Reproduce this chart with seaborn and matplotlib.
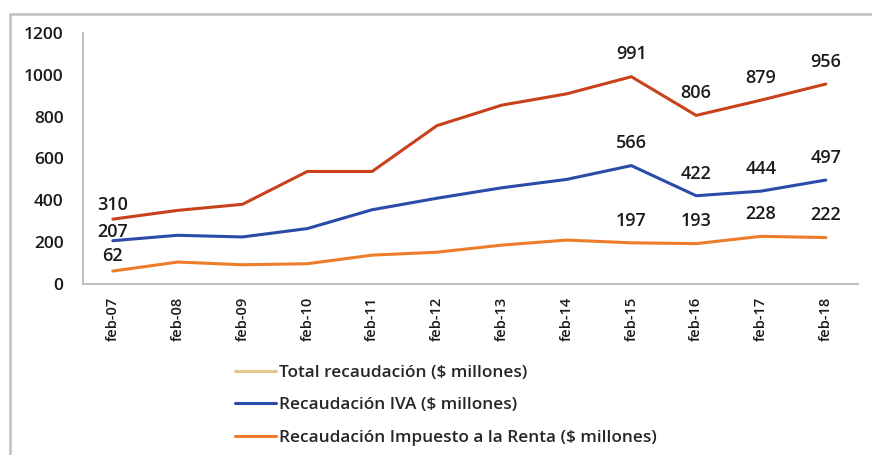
import pandas as pd
import seaborn as sns
import matplotlib
matplotlib.use("Agg")
import matplotlib.pyplot as plt
from matplotlib.lines import Line2D
from matplotlib.patches import Rectangle

periodos = ['feb-07', 'feb-08', 'feb-09', 'feb-10', 'feb-11', 'feb-12',
            'feb-13', 'feb-14', 'feb-15', 'feb-16', 'feb-17', 'feb-18']
total = [310, 352, 381, 538, 538, 757, 855, 909, 991, 806, 879, 956]
iva = [207, 233, 225, 265, 355, 410, 460, 500, 566, 422, 444, 497]
renta = [62, 105, 92, 97, 138, 152, 186, 210, 197, 193, 228, 222]

series = ['Total', 'IVA', 'Renta']
line_colors = ['#C9411B', '#2A4BA8', '#EE7D2A']
legend_labels = ['Total recaudación ($ millones)',
                 'Recaudación IVA ($ millones)',
                 'Recaudación Impuesto a la Renta ($ millones)']
legend_colors = ['#E3C58E', '#2A4BA8', '#EE7D2A']

df = pd.DataFrame({
    'periodo': periodos * 3,
    'valor': total + iva + renta,
    'serie': [s for s in series for _ in periodos],
})

sns.set_style('white')
plt.rcParams['font.family'] = ['Open Sans', 'DejaVu Sans']
plt.rcParams['font.weight'] = 'semibold'
txt = '#1A1A1A'

fig = plt.figure(figsize=(8.72, 4.55), dpi=100)
ax = fig.add_axes([0.0952, 0.3758, 0.889, 0.5517])
sns.lineplot(data=df, x='periodo', y='valor', hue='serie', palette=line_colors,
             linewidth=2.2, ax=ax, legend=False, sort=False)

ax.set_ylim(0, 1200)
ax.set_xlim(-0.46, 11.5)
ax.set_yticks(range(0, 1201, 200))
ax.set_xlabel('')
ax.set_ylabel('')
ax.tick_params(axis='y', length=0, pad=14, labelsize=12.5, labelcolor=txt)
ax.tick_params(axis='x', length=0, pad=9, labelsize=10.5, labelcolor=txt, rotation=90)
for s in ['top', 'right']:
    ax.spines[s].set_visible(False)
for s in ['left', 'bottom']:
    ax.spines[s].set_color('#BFBFBF')
    ax.spines[s].set_linewidth(1.5)

# etiquetas de datos: primer punto y los ultimos cuatro
first_offsets = [10, 6, 11]
for vals, off0 in zip([total, iva, renta], first_offsets):
    for i in [0, 8, 9, 10, 11]:
        off = off0 if i == 0 else 16
        ax.annotate(str(vals[i]), (i, vals[i]), xytext=(0, off),
                    textcoords='offset points', ha='center', va='center',
                    fontsize=13, color=txt)

handles = [Line2D([0], [0], color=c, lw=2.2) for c in legend_colors]
fig.legend(handles, legend_labels, loc='upper left', bbox_to_anchor=(235 / 872, 1 - 365 / 455),
           frameon=False, fontsize=12.4, handlelength=2.4, handletextpad=0.15,
           labelspacing=0.95, borderaxespad=0, borderpad=0)

fig.patches.append(Rectangle((10 / 872, -0.05), 1.0, 1 - 14 / 455 + 0.05,
                             transform=fig.transFigure, fill=False,
                             edgecolor='#BFBFBF', linewidth=1.8))

fig.savefig('out.png', dpi=100)
